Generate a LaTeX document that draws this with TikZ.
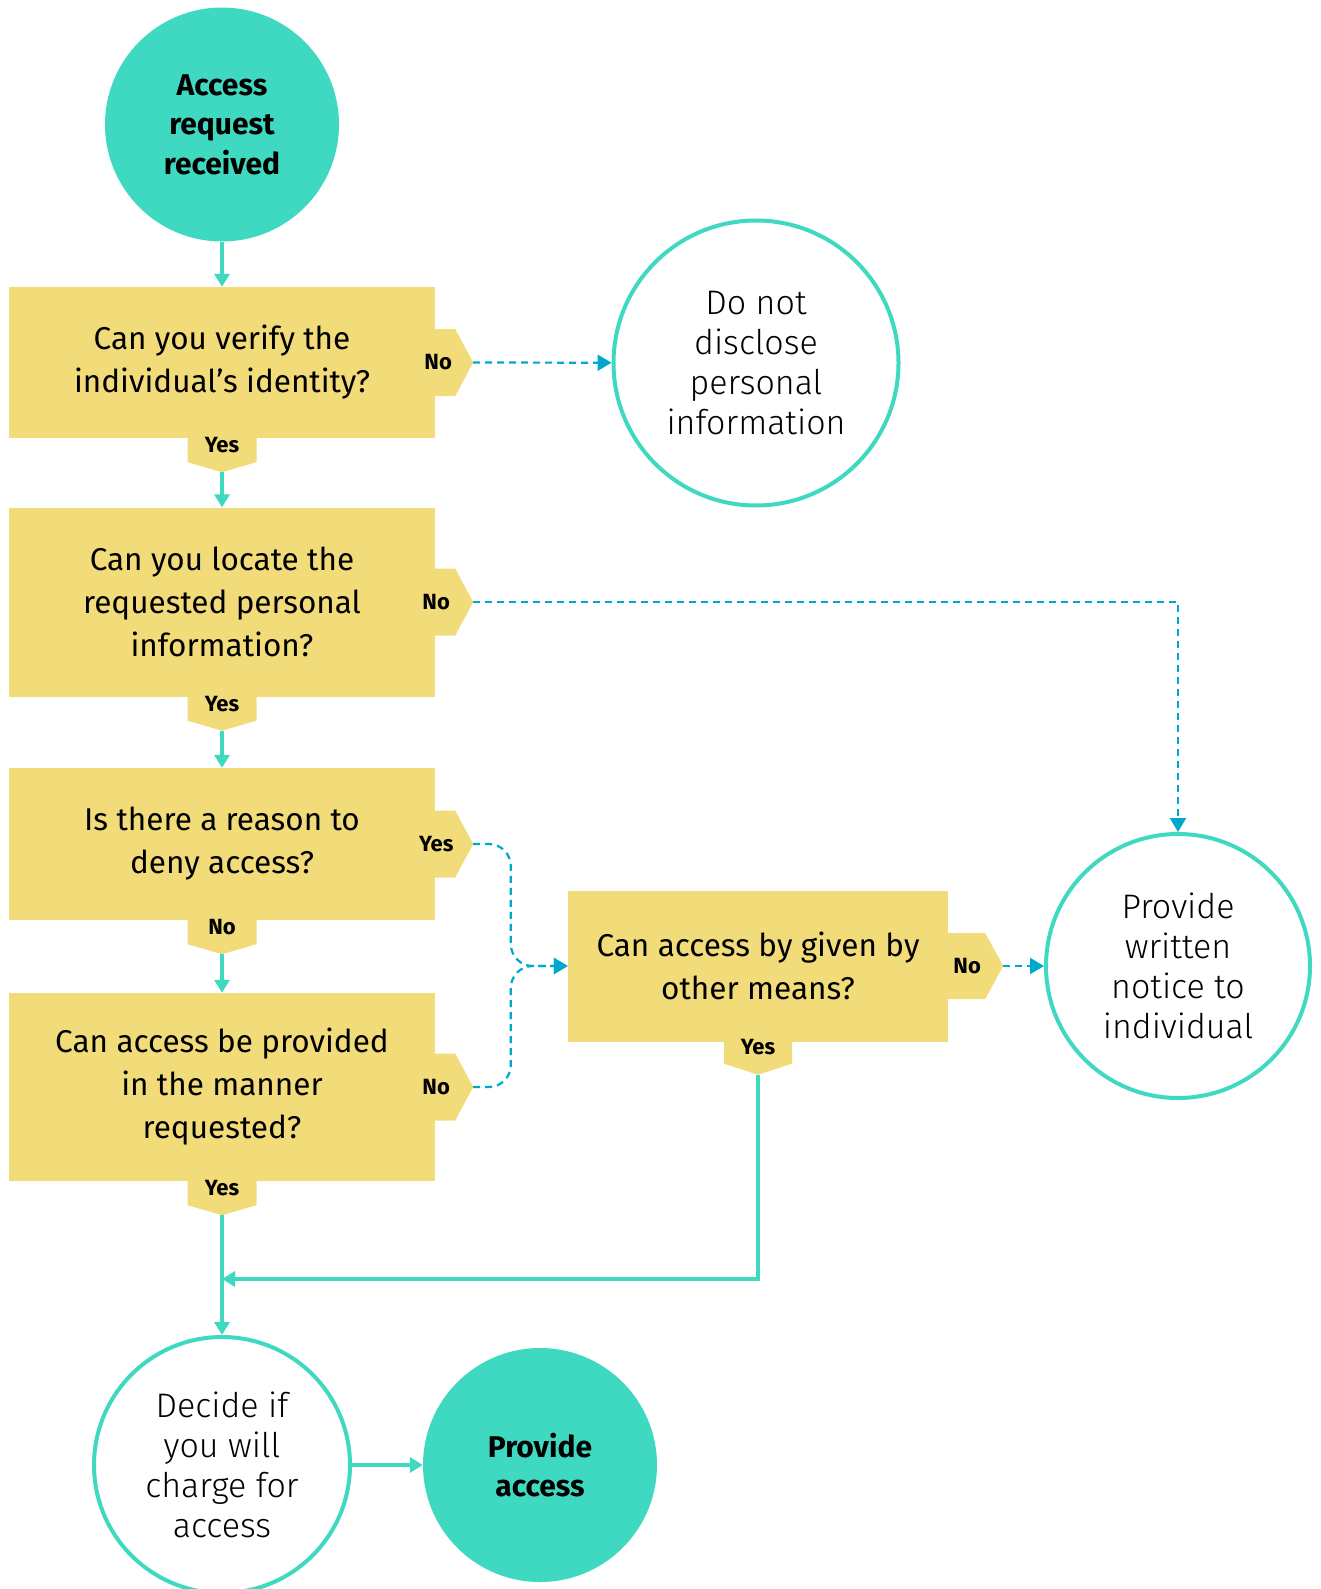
\documentclass[tikz,border=0pt]{standalone}
\usepackage{fontspec}
\setmainfont{Fira Sans}
\newfontfamily\lightfont{Fira Sans Light}
\usetikzlibrary{arrows.meta}
\definecolor{flowteal}{HTML}{3FD9C1}
\definecolor{qyellow}{HTML}{F2DC79}
\definecolor{noblue}{HTML}{00A8CE}
\tikzset{
  question/.style={fill=qyellow, minimum width=426pt, inner sep=0pt, align=center, font=\fontsize{31.5}{43}\selectfont},
  startend/.style={circle, fill=flowteal, inner sep=0pt, minimum size=234pt, align=center, font=\bf\fontsize{30}{39.5}\selectfont},
  outcome/.style={circle, draw=flowteal, line width=4pt, fill=white, inner sep=0pt, align=center, font=\lightfont\fontsize{34}{40}\selectfont},
  tab/.style={inner sep=0pt, font=\bf\fontsize{22}{22}\selectfont},
  flow/.style={draw=flowteal, line width=3.5pt, -{Triangle[length=13pt,width=15pt]}},
  alt/.style={draw=noblue, line width=2.2pt, dash pattern=on 7pt off 5pt, -{Triangle[length=14pt,width=16pt]}}
}
\begin{document}
\begin{tikzpicture}[x=1pt, y=-1pt]
\useasboundingbox (0,0) rectangle (1321,1589);

\node[startend] (start) at (222,124.5) {Access\\request\\received};
\node[question, minimum height=151pt] (q1) at (222,362.5) {Can you verify the\\individual’s identity?};
\node[question, minimum height=189pt] (q2) at (222,602) {Can you locate the\\requested personal\\information?};
\node[question, minimum height=152pt] (q3) at (222,844) {Is there a reason to\\deny access?};
\node[question, minimum height=188pt] (q4) at (222,1087) {Can access be provided\\in the manner\\requested?};
\node[question, minimum width=380pt, minimum height=151pt] (q5) at (758,966) {Can access by given by\\other means?};

\node[outcome, minimum size=285pt] (nodisc) at (756,363) {Do not\\disclose\\personal\\information};
\node[outcome, minimum size=264pt] (notice) at (1178,966) {Provide\\written\\notice to\\individual};
\node[outcome, minimum size=256pt] (charge) at (222,1465) {Decide if\\you will\\charge for\\access};
\node[startend] (provide) at (540,1465) {Provide\\access};

% tabs on the right
\fill[qyellow] (q1.east) ++(0,-33.5) -- ++(20,0) -- ++(18,33.5) coordinate (q1tip) -- ++(-18,33.5) -- ++(-20,0) -- cycle;
\fill[qyellow] (q2.east) ++(0,-33.5) -- ++(20,0) -- ++(18,33.5) coordinate (q2tip) -- ++(-18,33.5) -- ++(-20,0) -- cycle;
\fill[qyellow] (q3.east) ++(0,-33.5) -- ++(20,0) -- ++(18,33.5) coordinate (q3tip) -- ++(-18,33.5) -- ++(-20,0) -- cycle;
\fill[qyellow] (q4.east) ++(0,-33.5) -- ++(20,0) -- ++(18,33.5) coordinate (q4tip) -- ++(-18,33.5) -- ++(-20,0) -- cycle;
\fill[qyellow] (q5.east) ++(0,-33) -- ++(37,0) -- ++(18,33) coordinate (q5tip) -- ++(-18,33) -- ++(-37,0) -- cycle;
% tabs below
\fill[qyellow] (q1.south) ++(-34.5,0) -- ++(0,24) -- ++(34.5,10) coordinate (q1down) -- ++(34.5,-10) -- ++(0,-24) -- cycle;
\fill[qyellow] (q2.south) ++(-34.5,0) -- ++(0,24) -- ++(34.5,10) coordinate (q2down) -- ++(34.5,-10) -- ++(0,-24) -- cycle;
\fill[qyellow] (q3.south) ++(-34.5,0) -- ++(0,24) -- ++(34.5,10) coordinate (q3down) -- ++(34.5,-10) -- ++(0,-24) -- cycle;
\fill[qyellow] (q4.south) ++(-34.5,0) -- ++(0,24) -- ++(34.5,10) coordinate (q4down) -- ++(34.5,-10) -- ++(0,-24) -- cycle;
\fill[qyellow] (q5.south) ++(-34,0) -- ++(0,22) -- ++(34,11) coordinate (q5down) -- ++(34,-11) -- ++(0,-22) -- cycle;

\node[tab] (q1no) at ([xshift=3]q1.east) {No};
\node[tab] (q2no) at ([xshift=1]q2.east) {No};
\node[tab] (q3yes) at ([xshift=1]q3.east) {Yes};
\node[tab] (q4no) at ([xshift=1]q4.east) {No};
\node[tab] (q5no) at ([xshift=19]q5.east) {No};
\node[tab] (q1yes) at ([yshift=-7]q1.south) {Yes};
\node[tab] (q2yes) at ([yshift=-7]q2.south) {Yes};
\node[tab] (q3no) at ([yshift=-7]q3.south) {No};
\node[tab] (q4yes) at ([yshift=-7]q4.south) {Yes};
\node[tab] (q5yes) at ([yshift=-5]q5.south) {Yes};

\coordinate (merge) at (222,1279);

\draw[flow] (start) -- (q1);
\draw[flow] (q1down) -- (q2);
\draw[flow] (q2down) -- (q3);
\draw[flow] (q3down) -- (q4);
\draw[flow] (q4down) -- (charge);
\draw[flow] (q5down) |- (merge);
\draw[flow] (charge) -- (provide);

\draw[alt] (q1tip) -- (nodisc);
\draw[alt] (q2tip) -| (notice);
\draw[alt, rounded corners=22pt] (q3tip) -| ([xshift=-57]q5.west) -- (q5.west);
\draw[alt, rounded corners=22pt] (q4tip) -| ([xshift=-57]q5.west) -- (q5.west);
\draw[alt] (q5tip) -- (notice);
\end{tikzpicture}
\end{document}
